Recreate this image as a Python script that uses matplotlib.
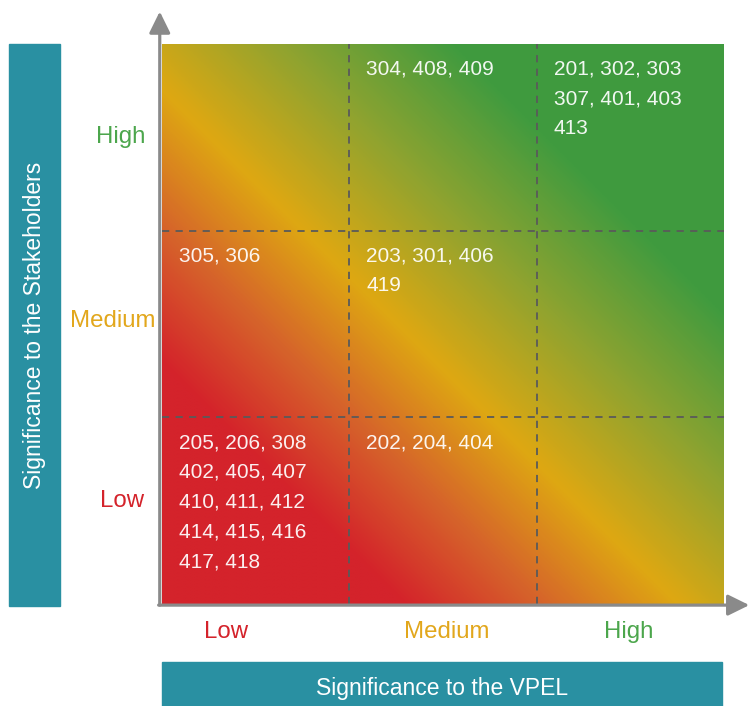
import numpy as np
import matplotlib
matplotlib.use("Agg")
import matplotlib.pyplot as plt
from matplotlib.colors import LinearSegmentedColormap
from matplotlib.patches import Rectangle

# ---- data ----
levels = ["Low", "Medium", "High"]
level_colors = ["#D4232B", "#E2A71C", "#4CA64C"]
cell_x = ["Low", "Medium", "High", "Low", "Medium", "Low", "Medium"]
cell_y = ["High", "High", "High", "Medium", "Medium", "Low", "Low"]
cell_codes = [
    [],
    ["304", "408", "409"],
    ["201", "302", "303", "307", "401", "403", "413"],
    ["305", "306"],
    ["203", "301", "406", "419"],
    ["205", "206", "308", "402", "405", "407", "410", "411", "412",
     "414", "415", "416", "417", "418"],
    ["202", "204", "404"],
]
x_title = "Significance to the VPEL"
y_title = "Significance to the Stakeholders"

plt.rcParams['font.family'] = ['Liberation Sans', 'DejaVu Sans']
W, H = 749, 706
fig = plt.figure(figsize=(W / 100, H / 100), dpi=100)

def fx(px):
    return px / W

def fy(py):
    return (H - py) / H

ax = fig.add_axes([fx(162), fy(604), fx(724) - fx(162), fy(44) - fy(604)])

# gradient background
cmap = LinearSegmentedColormap.from_list(
    "rag",
    [(0.0, "#D4232B"), (0.215, "#D4232B"), (0.34, "#D6652A"),
     (0.46, "#DEA812"), (0.61, "#8EA330"), (0.76, "#409B3F"), (1.0, "#3F9A3E")])
n = 400
u = np.linspace(0, 1, n)
U, V = np.meshgrid(u, u)
T = (U + V) / 2
ax.imshow(T, cmap=cmap, vmin=0, vmax=1, origin="lower",
          extent=[0, 3, 0, 3], aspect="auto", interpolation="bilinear")
ax.set_xlim(0, 3)
ax.set_ylim(0, 3)

for k in (1, 2):
    ax.axvline(k, color="#5a5a5a", lw=1.3, ls=(0, (4, 3.5)))
    ax.axhline(k, color="#5a5a5a", lw=1.3, ls=(0, (4, 3.5)))

for s in ax.spines.values():
    s.set_visible(False)
ax.set_xticks([])
ax.set_yticks([])

# axis arrows
arrow_kw = dict(arrowstyle="-|>,head_length=0.65,head_width=0.32",
                color="#8a8a8a", lw=2.3, mutation_scale=20,
                shrinkA=0, shrinkB=0)
ax.annotate("", xy=(-0.004, 1.058), xytext=(-0.004, -0.002),
            xycoords="axes fraction", arrowprops=arrow_kw, annotation_clip=False)
ax.annotate("", xy=(1.045, -0.002), xytext=(-0.006, -0.002),
            xycoords="axes fraction", arrowprops=arrow_kw, annotation_clip=False)

# cell texts
for cx, cy, codes in zip(cell_x, cell_y, cell_codes):
    if not codes:
        continue
    i = levels.index(cx)
    j = levels.index(cy)
    lines = [", ".join(codes[k:k + 3]) for k in range(0, len(codes), 3)]
    ax.text(i + 0.09, j + 1 - 0.085, "\n".join(lines), color="white",
            alpha=0.93, fontsize=15.0, ha="left", va="top", linespacing=1.72)

# level labels
x_label_pos = [0.34, 1.52, 2.49]
y_label_x = [-0.215, -0.265, -0.22]
y_label_pos = [0.55, 1.515, 2.50]
for k, (lab, col) in enumerate(zip(levels, level_colors)):
    ax.text(x_label_pos[k], -0.15, lab, color=col, fontsize=17.3,
            ha="center", va="center", clip_on=False)
    ax.text(y_label_x[k], y_label_pos[k], lab, color=col, fontsize=17.3,
            ha="center", va="center", clip_on=False)

# teal title boxes
teal = "#2990A2"
fig.patches.append(Rectangle((fx(9), fy(606)), fx(60) - fx(9), fy(44) - fy(606),
                             transform=fig.transFigure, color=teal, zorder=0))
fig.patches.append(Rectangle((fx(162), 0), fx(722) - fx(162), fy(662),
                             transform=fig.transFigure, color=teal, zorder=0))
fig.text(fx(35), fy(325), y_title, rotation=90, color="white", fontsize=16.5,
         ha="center", va="center")
fig.text((fx(162) + fx(722)) / 2, fy(689), x_title, color="white",
         fontsize=16.5, ha="center", va="center")

fig.savefig("out.png", dpi=100)
